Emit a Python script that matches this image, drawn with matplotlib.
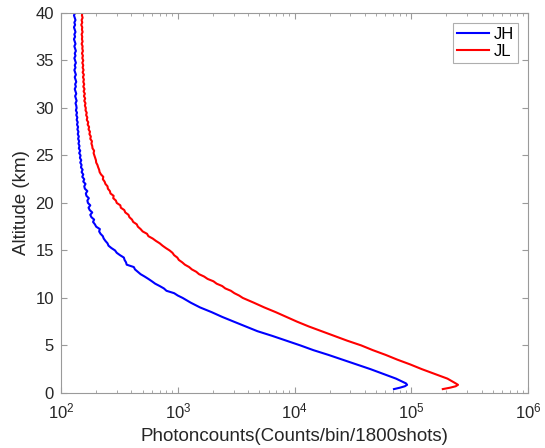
import matplotlib
matplotlib.use("Agg")
import matplotlib.pyplot as plt
from matplotlib.ticker import LogLocator, NullFormatter
import numpy as np

plt.rcParams['font.family'] = ['Liberation Sans', 'DejaVu Sans']

# Altitude (km)
altitude = [0.40, 0.55, 0.70, 0.85, 1.00, 1.50, 2.00, 2.50, 3.00, 3.50, 4.00, 4.50,
            5.00, 5.50, 6.00, 6.50, 7.00, 7.50, 8.00, 8.50, 9.00, 9.50,
            10.00, 10.25, 10.50, 10.75, 11.00, 11.25, 11.50, 11.75, 12.00, 12.25,
            12.50, 12.75, 13.00, 13.25, 13.50, 13.75, 14.00, 14.25, 14.50, 14.75,
            15.00, 15.25, 15.50, 15.75, 16.00, 16.25, 16.50, 16.75, 17.00, 17.25,
            17.50, 17.75, 18.00, 18.25, 18.50, 18.75, 19.00, 19.25, 19.50, 19.75,
            20.00, 20.25, 20.50, 20.75, 21.00, 21.25, 21.50, 21.75, 22.00, 22.25,
            22.50, 22.75, 23.00, 23.25, 23.50, 23.75, 24.00, 24.25, 24.50, 24.75,
            25.00, 25.25, 25.50, 25.75, 26.00, 26.25, 26.50, 26.75, 27.00, 27.25,
            27.50, 27.75, 28.00, 28.25, 28.50, 28.75, 29.00, 29.25, 29.50, 29.75,
            30.00, 30.25, 30.50, 30.75, 31.00, 31.25, 31.50, 31.75, 32.00, 32.25,
            32.50, 32.75, 33.00, 33.25, 33.50, 33.75, 34.00, 34.25, 34.50, 34.75,
            35.00, 35.25, 35.50, 35.75, 36.00, 36.25, 36.50, 36.75, 37.00, 37.25,
            37.50, 37.75, 38.00, 38.25, 38.50, 38.75, 39.00, 39.25, 39.50, 39.75,
            40.00]

# JH channel photon counts
jh_counts = [71000, 80000, 88000, 92000, 90000, 74000, 57500, 44700, 33900, 25700, 19500, 14500,
             11200, 8500, 6450, 4800, 3800, 3020, 2400, 1950, 1550, 1290,
             1100, 1000, 930, 800, 760, 700, 640, 600, 560, 520,
             480, 455, 430, 420, 365, 360, 350, 345, 320, 300,
             290, 270, 255, 250, 240, 232, 228, 218, 212, 215,
             200, 195, 188, 192, 182, 178, 185, 176, 172, 178,
             170, 168, 173, 165, 163, 168, 160, 158, 162, 155,
             158, 152, 155, 150, 153, 148, 150, 146, 149, 145,
             147, 143, 146, 142, 144, 141, 143, 140, 142, 139,
             141, 138, 140, 137, 139, 136, 138, 135, 137, 134,
             136, 135, 133, 136, 134, 132, 135, 133, 131, 134,
             132, 135, 133, 131, 134, 132, 130, 133, 131, 134,
             132, 130, 133, 131, 134, 132, 130, 133, 131, 129,
             132, 130, 133, 131, 129, 132, 130, 133, 131, 129,
             132]

# JL channel photon counts
jl_counts = [186000, 215000, 240000, 251000, 240000, 204000, 158000, 123000, 97700, 75900, 60300, 46800,
             37200, 28200, 21900, 17000, 13200, 10500, 8500, 6900, 5500, 4470,
             3600, 3350, 3050, 2850, 2550, 2400, 2150, 2020, 1800, 1680,
             1520, 1440, 1320, 1250, 1150, 1090, 1020, 990, 930, 900,
             850, 790, 740, 700, 650, 610, 560, 545, 500, 480,
             455, 445, 415, 405, 385, 378, 355, 348, 325, 322,
             300, 295, 280, 282, 265, 262, 252, 250, 240, 236,
             228, 230, 220, 214, 212, 208, 205, 200, 199, 196,
             193, 190, 192, 186, 185, 182, 184, 178, 180, 175,
             177, 172, 174, 169, 171, 166, 168, 164, 166, 162,
             163, 160, 162, 158, 161, 157, 160, 156, 159, 155,
             158, 155, 157, 154, 157, 153, 156, 153, 155, 152,
             155, 152, 154, 151, 154, 152, 153, 150, 153, 151,
             152, 150, 153, 151, 152, 149, 152, 150, 153, 151,
             152]

series_labels = ["JH", "JL"]
xlabel_text = "Photoncounts(Counts/bin/1800shots)"
ylabel_text = "Altitude (km)"

fig = plt.figure(figsize=(5.45, 4.48), dpi=100)
ax = fig.add_axes([0.112, 0.123, 0.857, 0.848])

ax.plot(jh_counts, altitude, color='#0000ff', lw=1.5, label=series_labels[0])
ax.plot(jl_counts, altitude, color='#ff0000', lw=1.5, label=series_labels[1])

ax.set_xscale('log')
ax.set_xlim(1e2, 1e6)
ax.set_ylim(0, 40)
ax.set_yticks(np.arange(0, 41, 5))
ax.xaxis.set_major_locator(LogLocator(base=10, numticks=10))
ax.xaxis.set_minor_locator(LogLocator(base=10, subs=np.arange(2, 10), numticks=20))
ax.xaxis.set_minor_formatter(NullFormatter())

spine_col = '#9a9a9a'
for s in ax.spines.values():
    s.set_color(spine_col)
    s.set_linewidth(0.8)
ax.tick_params(which='both', direction='in', top=True, right=True, colors=spine_col,
               labelcolor='#262626', labelsize=12)
ax.tick_params(axis='x', which='major', pad=6)
ax.tick_params(axis='y', which='major', pad=5)
ax.tick_params(which='major', length=4, width=0.8)
ax.tick_params(which='minor', length=2.5, width=0.6)

ax.set_xlabel(xlabel_text, fontsize=13.5, color='#262626', labelpad=5)
ax.set_ylabel(ylabel_text, fontsize=13.5, color='#262626', labelpad=4)

leg = ax.legend(loc='upper right', fontsize=12, frameon=True, fancybox=False,
                handlelength=1.9, borderpad=0.25, labelspacing=0.1,
                handletextpad=0.3, borderaxespad=0.6)
leg.get_frame().set_edgecolor('#9a9a9a')
leg.get_frame().set_linewidth(0.8)

fig.savefig('out.png', dpi=100)
